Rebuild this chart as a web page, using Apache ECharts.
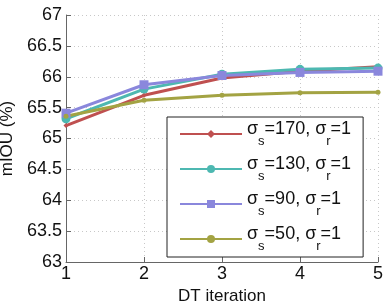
<!DOCTYPE html>
<html><head><meta charset="utf-8">
<script src="https://cdn.jsdelivr.net/npm/echarts@6/dist/echarts.min.js"></script>
<style>html,body{margin:0;padding:0;background:#fff}#c{width:390px;height:306px}</style>
</head><body><div id="c"></div>
<script>
var iterations = [1, 2, 3, 4, 5];
var s170 = [65.21, 65.70, 65.98, 66.09, 66.16];
var s130 = [65.32, 65.80, 66.04, 66.12, 66.14];
var s90  = [65.41, 65.87, 66.02, 66.07, 66.09];
var s50  = [65.36, 65.62, 65.70, 65.74, 65.75];
var seriesNames = ['170', '130', '90', '50'];
var colors = ['#bf5050', '#4db8b1', '#8a87dc', '#a3a343'];
var symbols = ['diamond', 'circle', 'rect', 'circle'];
var symbolSizes = [5, 9, 9, 5];
var values = [s170, s130, s90, s50];

function pairs(v){ return iterations.map(function(x,i){ return [x, v[i]]; }); }
var font = 'Liberation Sans, Arial, Helvetica, sans-serif';
var chart = echarts.init(document.getElementById('c'), null, {renderer:'canvas'});
chart.setOption({
  animation: false,
  backgroundColor: '#fff',
  grid: {left: 66, right: 12, top: 15, bottom: 44, containLabel: false, outerBoundsMode: 'none'},
  xAxis: {
    type: 'value', min: 1, max: 5, interval: 1,
    name: 'DT iteration', nameLocation: 'middle', nameGap: 24,
    nameTextStyle: {fontFamily: font, fontSize: 17, color: '#111'},
    axisLine: {lineStyle: {color: '#666', width: 1}},
    axisTick: {inside: true, length: 5, lineStyle: {color: '#666'}},
    axisLabel: {fontFamily: font, fontSize: 18, color: '#111', margin: 3},
    splitLine: {show: true, lineStyle: {color: '#c8c8c8', type: [1, 3]}}
  },
  yAxis: {
    type: 'value', min: 63, max: 67, interval: 0.5,
    name: 'mIOU (%)', nameLocation: 'middle', nameGap: 45,
    nameTextStyle: {fontFamily: font, fontSize: 17, color: '#111'},
    axisLine: {show: true, lineStyle: {color: '#666', width: 1}},
    axisTick: {show: true, inside: true, length: 5, lineStyle: {color: '#666'}},
    axisLabel: {fontFamily: font, fontSize: 18, color: '#111', margin: 4,
      formatter: function(v){ return String(v); }},
    splitLine: {show: true, lineStyle: {color: '#c8c8c8', type: [1, 3]}}
  },
  legend: {
    orient: 'vertical', left: 167, top: 117, width: 198,
    padding: [3, 12, 4, 12],
    borderColor: '#222', borderWidth: 1, backgroundColor: '#fff',
    itemWidth: 62, itemHeight: 10, itemGap: 7,
    data: seriesNames,
    formatter: function(n){ return '{a|\u03c3}{s|s}{a|=' + n + ', \u03c3}{s|r}{a|=1}'; },
    textStyle: {
      fontFamily: font, color: '#111',
      rich: {
        a: {fontFamily: font, fontSize: 18, color: '#111', lineHeight: 28, verticalAlign: 'top'},
        s: {fontFamily: font, fontSize: 13, color: '#111', lineHeight: 14, verticalAlign: 'bottom'}
      }
    }
  },
  series: values.map(function(v, i){
    return {
      name: seriesNames[i], type: 'line', data: pairs(v),
      symbol: symbols[i], symbolSize: symbolSizes[i], showSymbol: true,
      itemStyle: {color: colors[i]},
      lineStyle: {color: colors[i], width: 3}
    };
  })
});
</script></body></html>
